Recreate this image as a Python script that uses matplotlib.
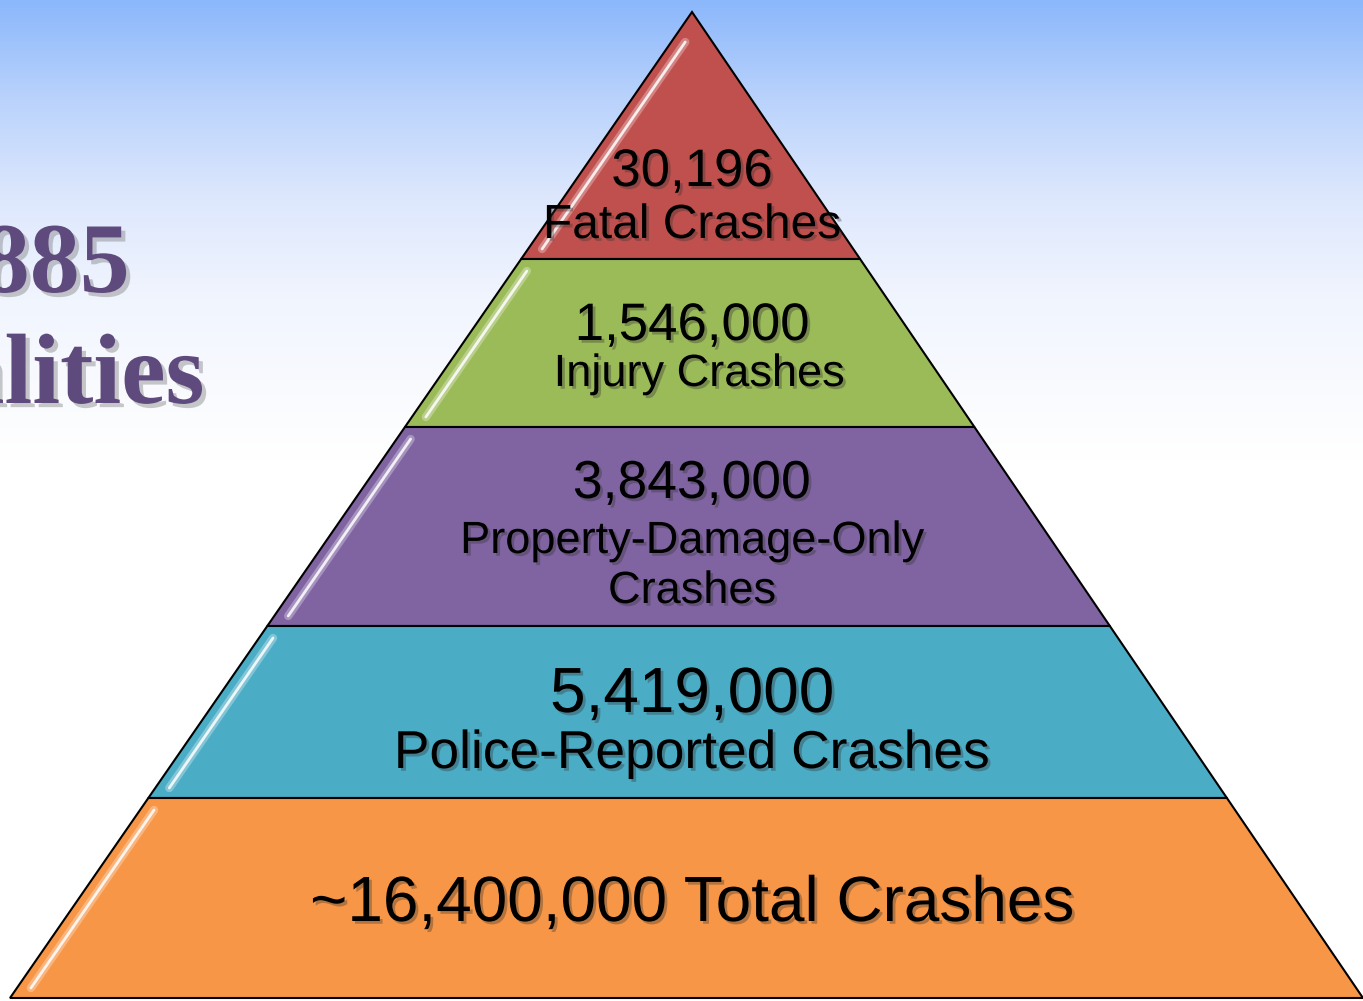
import numpy as np
import matplotlib.pyplot as plt
import matplotlib.patheffects as pe
from matplotlib.patches import Polygon

# data
values = ['30,196', '1,546,000', '3,843,000', '5,419,000', '~16,400,000']
labels = ['Fatal Crashes', 'Injury Crashes', 'Property-Damage-Only\nCrashes',
          'Police-Reported Crashes', 'Total Crashes']
layer_colors = ['#C0504D', '#9BBB59', '#8064A2', '#4BACC6', '#F79646']
side_title = ['32,885', 'Fatalities']

# layout (pixels, y downwards)
W, H = 1363, 1001
apex = (692, 12)
base_y, base_l, base_r = 998, 10, 1363
bounds = [12, 259, 427, 626, 798, 998]


def x_left(y):
    return apex[0] - (apex[0] - base_l) * (y - apex[1]) / (base_y - apex[1])


def x_right(y):
    return apex[0] + (base_r - apex[0]) * (y - apex[1]) / (base_y - apex[1])


fig = plt.figure(figsize=(W / 100, H / 100), dpi=100)
ax = fig.add_axes([0, 0, 1, 1])
ax.set_xlim(0, W)
ax.set_ylim(H, 0)
ax.axis('off')

# background gradient
stops_y = [0, 100, 200, 300, 460, H]
stops_c = np.array([[139, 183, 251], [186, 211, 252], [222, 232, 253],
                    [241, 245, 254], [255, 255, 255], [255, 255, 255]]) / 255
ys = np.arange(H)
grad = np.stack([np.interp(ys, stops_y, stops_c[:, k]) for k in range(3)], axis=1)
ax.imshow(grad[:, None, :], extent=[0, W, H, 0], aspect='auto', zorder=0)

# side title (cropped at the left edge, as on the slide)
shadow = [pe.SimplePatchShadow(offset=(3, -3), shadow_rgbFace='#777777', alpha=0.4), pe.Normal()]
ax.text(130, 292, side_title[0], ha='right', va='baseline', fontsize=72, fontweight='bold',
        family='Liberation Serif', color='#5F4A7E', path_effects=shadow, zorder=2)
ax.text(205, 403, side_title[1], ha='right', va='baseline', fontsize=72, fontweight='bold',
        family='Liberation Serif', color='#5F4A7E', path_effects=shadow, zorder=2)

# pyramid layers
for i in range(len(values)):
    y0, y1 = bounds[i], bounds[i + 1]
    if i == 0:
        pts = [apex, (x_right(y1), y1), (x_left(y1), y1)]
    else:
        pts = [(x_left(y0), y0), (x_right(y0), y0), (x_right(y1), y1), (x_left(y1), y1)]
    ax.add_patch(Polygon(pts, closed=True, facecolor=layer_colors[i], edgecolor='black',
                         linewidth=1.5, zorder=3))
    # glossy streak along left edge
    ya, yb = (y0 + 12 if i > 0 else y0 + 30), y1 - 10
    off = 14
    ax.plot([x_left(ya) + off, x_left(yb) + off], [ya, yb], color='white', linewidth=6,
            alpha=0.3, solid_capstyle='round', zorder=4)
    ax.plot([x_left(ya) + off, x_left(yb) + off], [ya, yb], color='white', linewidth=2,
            alpha=0.85, solid_capstyle='round', zorder=4)

txt_shadow = [pe.SimplePatchShadow(offset=(2, -2), shadow_rgbFace='#333333', alpha=0.35), pe.Normal()]
font = 'Liberation Sans'
cx = 692
ax.text(cx, 186, values[0], ha='center', va='baseline', fontsize=38, family=font, path_effects=txt_shadow, zorder=5)
ax.text(cx, 238, labels[0], ha='center', va='baseline', fontsize=34.5, family=font, path_effects=txt_shadow, zorder=5)
ax.text(cx, 340, values[1], ha='center', va='baseline', fontsize=38, family=font, path_effects=txt_shadow, zorder=5)
ax.text(cx + 7, 386, labels[1], ha='center', va='baseline', fontsize=32.5, family=font, path_effects=txt_shadow, zorder=5)
ax.text(cx, 498, values[2], ha='center', va='baseline', fontsize=38.5, family=font, path_effects=txt_shadow, zorder=5)
ax.text(cx, 553, labels[2].split('\n')[0], ha='center', va='baseline', fontsize=32.5, family=font,
        path_effects=txt_shadow, zorder=5)
ax.text(cx, 603, labels[2].split('\n')[1], ha='center', va='baseline', fontsize=32.5, family=font,
        path_effects=txt_shadow, zorder=5)
ax.text(cx, 712, values[3], ha='center', va='baseline', fontsize=46, family=font, path_effects=txt_shadow, zorder=5)
ax.text(cx, 768, labels[3], ha='center', va='baseline', fontsize=38.4, family=font, path_effects=txt_shadow, zorder=5)
ax.text(cx, 921, values[4] + ' ' + labels[4], ha='center', va='baseline', fontsize=46, family=font,
        path_effects=txt_shadow, zorder=5)

fig.savefig('out.png', dpi=100)
